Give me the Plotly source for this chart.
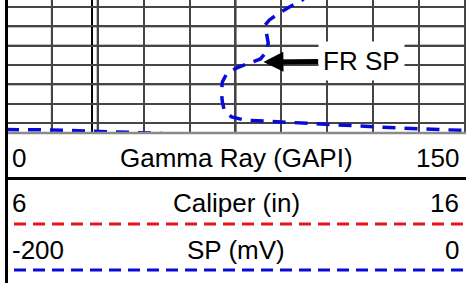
import plotly.graph_objects as go

# ---- data ----
sp_mv = [-67.0, -70.9, -75.7, -80.9, -85.2, -87.0, -86.5, -85.7, -86.5, -89.1, -93.9, -99.6,
         -103.9, -105.7, -106.1, -105.7, -104.8, -101.7, -96.1, -85.2, -72.2, -59.1, -46.1,
         -28.7, -11.3, 0.0, None,
         -200.0, -180.9, -159.1, -137.4, -115.7]
depth_ft = [1992.2, 1996.4, 1999.5, 2003.1, 2006.7, 2009.3, 2013.4, 2018.6, 2023.3, 2026.9, 2029.0, 2031.6,
            2034.7, 2038.8, 2044.0, 2049.1, 2053.8, 2056.9, 2058.5, 2059.2, 2059.7, 2060.8, 2061.8,
            2062.6, 2063.4, 2063.9, None,
            2063.4, 2063.6, 2064.4, 2065.2, 2066.7]

track_names = ["Gamma Ray (GAPI)", "Caliper (in)", "SP (mV)"]
left_vals = ["0", "6", "-200"]
right_vals = ["150", "16", "0"]

dark_depths = [2010, 2020, 2040, 2060]
dark_sp = [-180, -162.5, -160, -100]

arrow_label = "FR SP"
arrow_tip = (-87.8, 2028.5)
arrow_text = (-45.2, 2027.9)

# ---- figure ----
W, H = 466, 283
TRACK_BOTTOM = 133
FONT = "Liberation Sans, Arial, sans-serif"
BLUE = "#0a0ad8"
RED = "#e8141c"

def py(p):
    return 1 - p / H

fig = go.Figure()
fig.add_trace(go.Scatter(x=sp_mv, y=depth_ft, mode="lines",
                         line=dict(color=BLUE, width=3.5, dash="13px,9px"),
                         connectgaps=False, hoverinfo="skip", showlegend=False))

shapes = []
for d in dark_depths:
    shapes.append(dict(type="line", xref="x", yref="y", x0=-200, x1=0.5, y0=d, y1=d,
                       line=dict(color="#000", width=2), layer="below"))
for s in dark_sp:
    shapes.append(dict(type="line", xref="x", yref="y", x0=s, x1=s, y0=1990, y1=2070,
                       line=dict(color="#000", width=2), layer="below"))

# header
shapes += [
    dict(type="line", xref="paper", yref="paper", x0=6 / W, x1=1, y0=py(TRACK_BOTTOM), y1=py(TRACK_BOTTOM),
         line=dict(color="#8a8a8a", width=2.5)),
    dict(type="line", xref="paper", yref="paper", x0=6 / W, x1=1, y0=py(178.5), y1=py(178.5),
         line=dict(color="#000", width=3)),
    dict(type="line", xref="paper", yref="paper", x0=14 / W, x1=1, y0=py(224), y1=py(224),
         line=dict(color=RED, width=3, dash="12px,7px")),
    dict(type="line", xref="paper", yref="paper", x0=14 / W, x1=1, y0=py(270), y1=py(270),
         line=dict(color=BLUE, width=3, dash="12px,7px")),
    dict(type="line", xref="paper", yref="paper", x0=6.5 / W, x1=6.5 / W, y0=0, y1=1,
         line=dict(color="#000", width=3)),
]

annotations = []
row_y = [157.5, 203, 249.5]
HFS = 26
for name, lv, rv, yy in zip(track_names, left_vals, right_vals, row_y):
    annotations.append(dict(xref="paper", yref="paper", x=10 / W, y=py(yy), text=lv, showarrow=False,
                            xanchor="left", yanchor="middle", font=dict(family=FONT, size=HFS, color="#000")))
    annotations.append(dict(xref="paper", yref="paper", x=236 / W, y=py(yy), text=name, showarrow=False,
                            xanchor="center", yanchor="middle", font=dict(family=FONT, size=HFS, color="#000")))
    annotations.append(dict(xref="paper", yref="paper", x=461 / W, y=py(yy), text=rv, showarrow=False,
                            xanchor="right", yanchor="middle", font=dict(family=FONT, size=HFS, color="#000")))

annotations.append(dict(x=arrow_tip[0], y=arrow_tip[1], xref="x", yref="y",
                        ax=arrow_text[0], ay=arrow_text[1], axref="x", ayref="y",
                        text=arrow_label, showarrow=True, arrowhead=2, arrowsize=0.8, arrowwidth=5,
                        arrowcolor="#000", standoff=0, bgcolor="white", borderpad=4,
                        font=dict(family=FONT, size=26, color="#000")))

fig.update_layout(
    width=W, height=H, margin=dict(l=0, r=0, t=0, b=0),
    paper_bgcolor="white", plot_bgcolor="white",
    xaxis=dict(domain=[6 / W, 1], range=[-200, 0.5], showgrid=True, dtick=20, tick0=-200,
               gridcolor="#454545", gridwidth=1.5, showticklabels=False, zeroline=False,
               showline=False, ticks="", fixedrange=True),
    yaxis=dict(domain=[py(TRACK_BOTTOM), 1], range=[2065.2, 1996.38], showgrid=True, dtick=10, tick0=2000,
               gridcolor="#454545", gridwidth=1.5, showticklabels=False, zeroline=False,
               showline=False, ticks="", fixedrange=True),
    shapes=shapes, annotations=annotations, showlegend=False,
)

fig.write_html("out.html", config={"displayModeBar": False},
               post_script="document.body.style.margin='0';document.body.style.overflow='hidden';")
